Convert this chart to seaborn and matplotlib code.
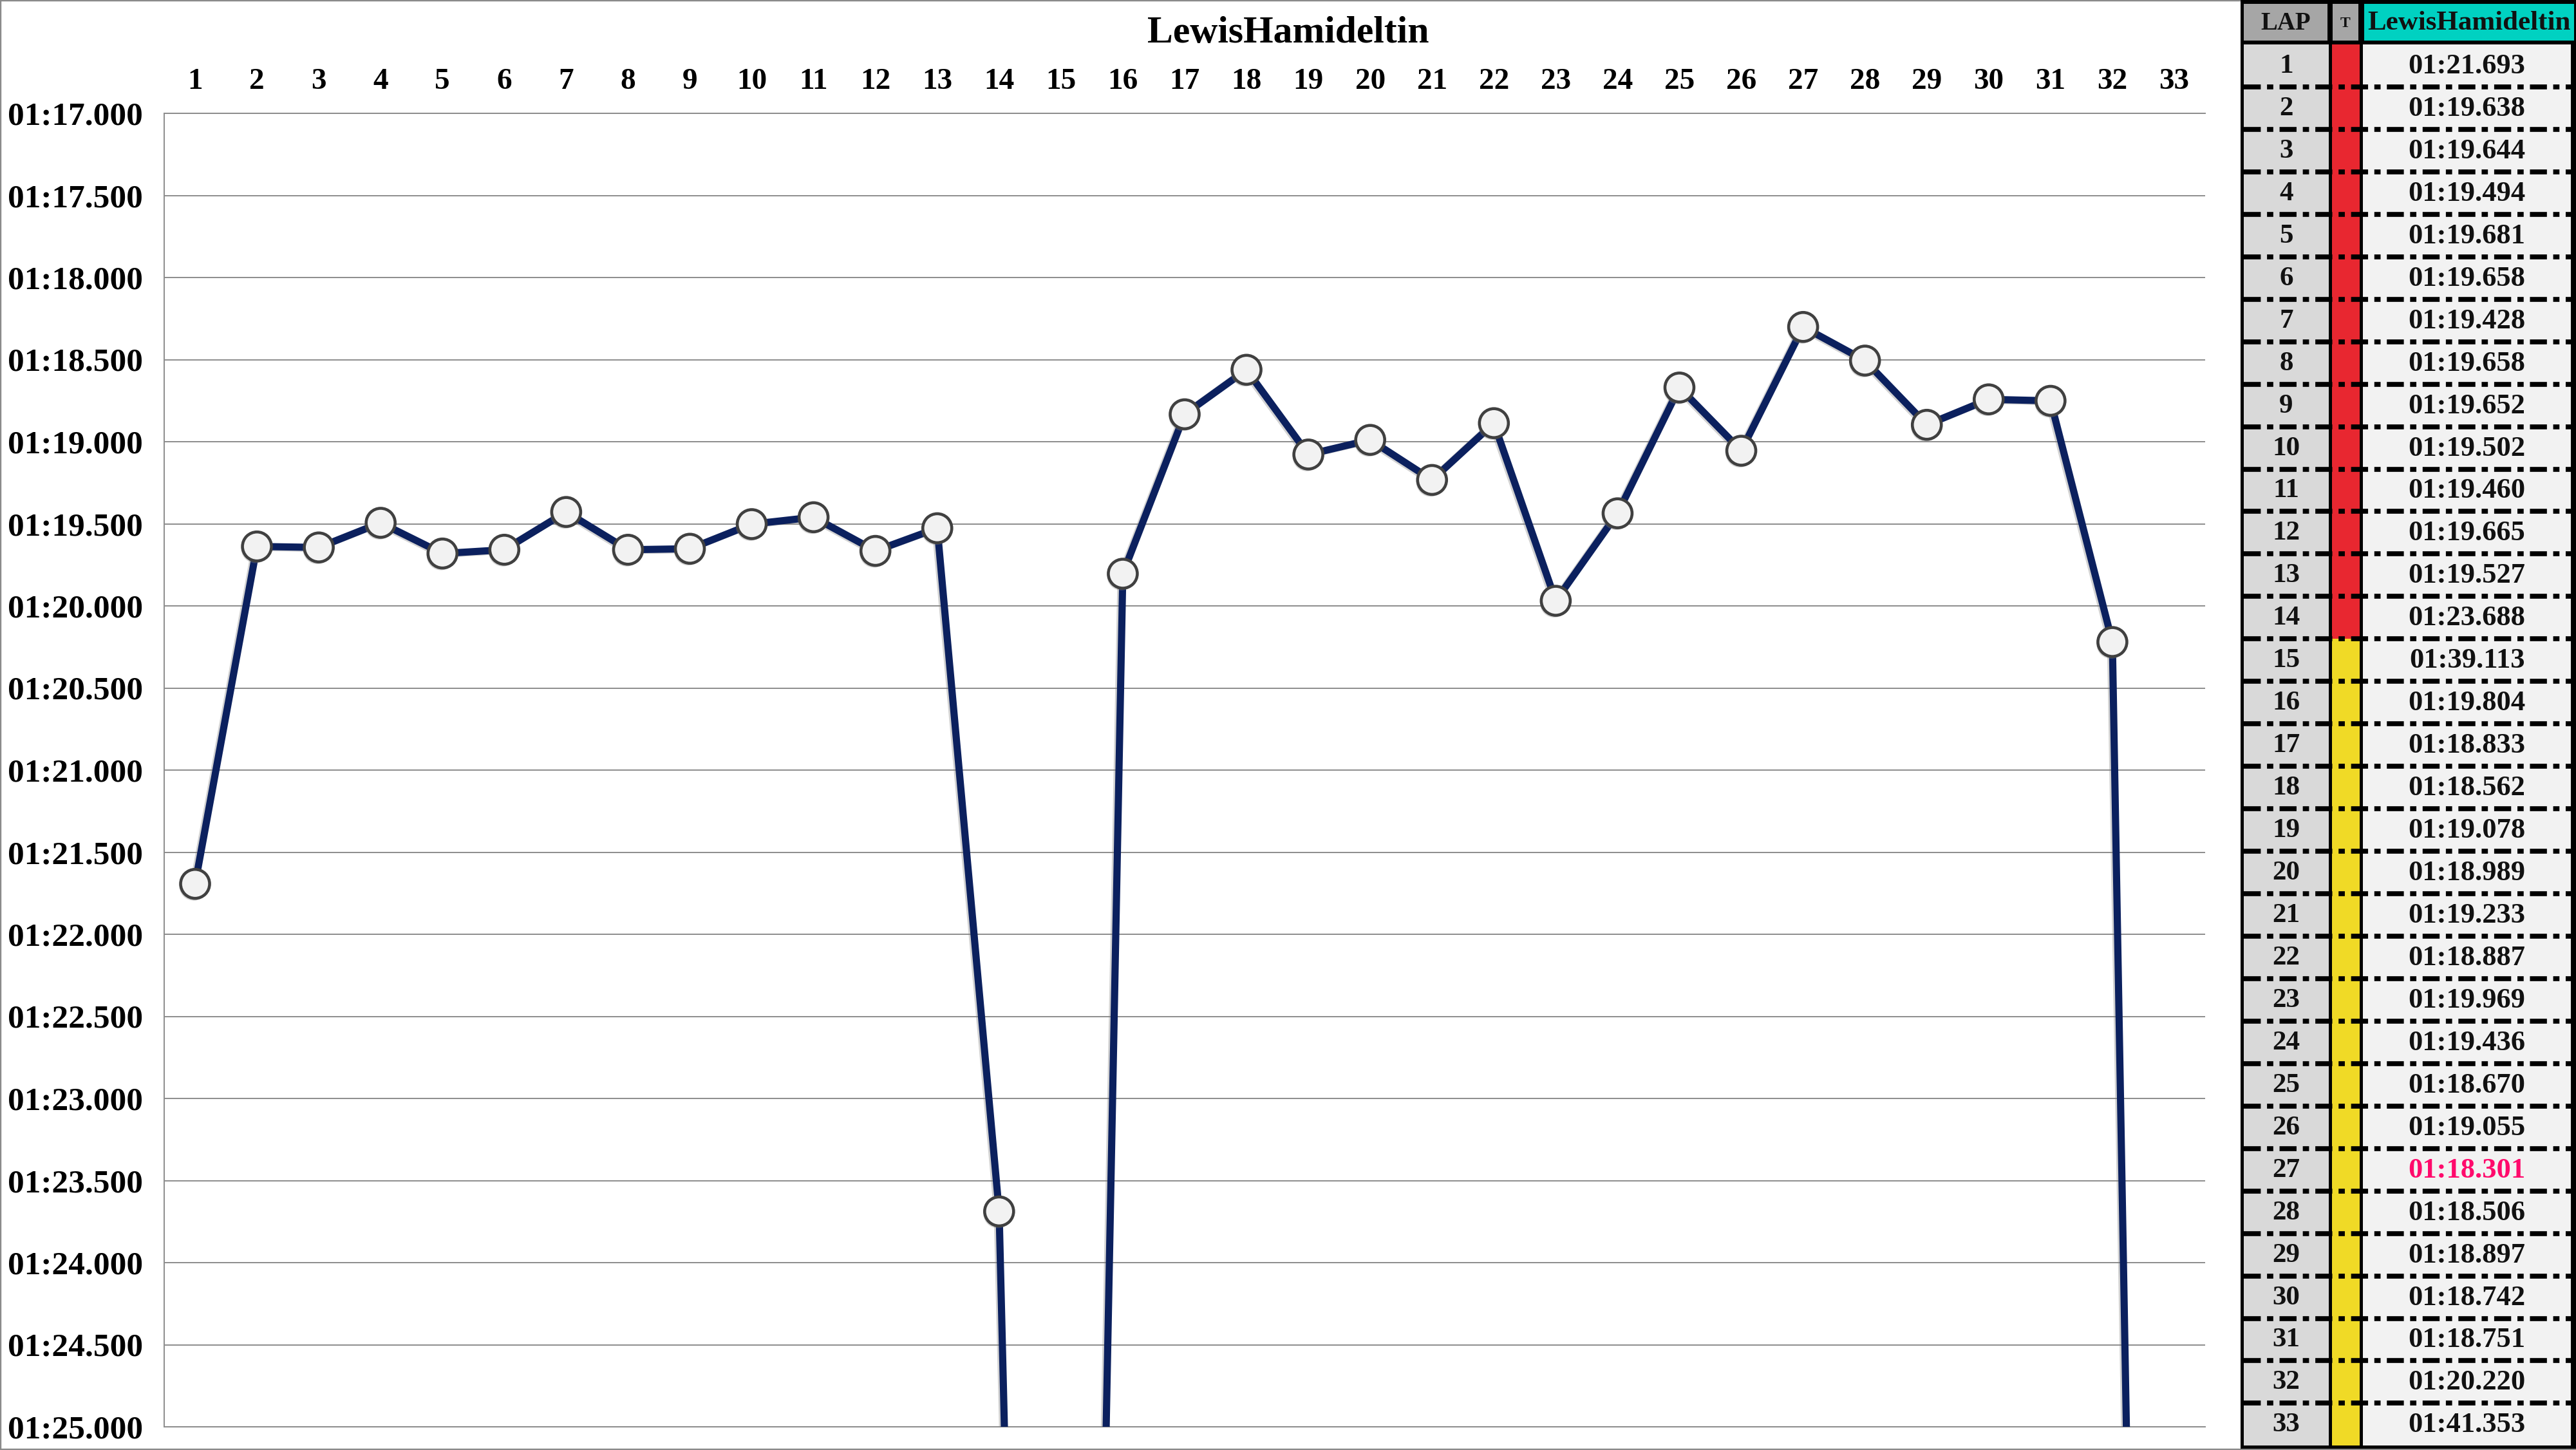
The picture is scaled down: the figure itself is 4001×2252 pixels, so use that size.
import numpy as np
import pandas as pd
import matplotlib
matplotlib.use("Agg")
import matplotlib.pyplot as plt
import matplotlib.patches as mpatches
import matplotlib.patheffects as pe
import seaborn as sns

# ---------------- data ----------------
driver = "LewisHamideltin"
laps = [1, 2, 3, 4, 5, 6, 7, 8, 9, 10, 11, 12, 13, 14, 15, 16, 17,
        18, 19, 20, 21, 22, 23, 24, 25, 26, 27, 28, 29, 30, 31, 32, 33]
lap_seconds = [81.693, 79.638, 79.644, 79.494, 79.681, 79.658, 79.428,
               79.658, 79.652, 79.502, 79.460, 79.665, 79.527, 83.688,
               99.113, 79.804, 78.833, 78.562, 79.078, 78.989, 79.233,
               78.887, 79.969, 79.436, 78.670, 79.055, 78.301, 78.506,
               78.897, 78.742, 78.751, 80.220, 101.353]
compounds = ["S", "S", "S", "S", "S", "S", "S", "S", "S", "S", "S", "S",
             "S", "S", "M", "M", "M", "M", "M", "M", "M", "M", "M", "M",
             "M", "M", "M", "M", "M", "M", "M", "M", "M"]
compound_colors = {"S": "#e82730", "M": "#f0da26"}
y_ticks = [77.0, 77.5, 78.0, 78.5, 79.0, 79.5, 80.0, 80.5, 81.0,
           81.5, 82.0, 82.5, 83.0, 83.5, 84.0, 84.5, 85.0]
table_headers = ["LAP", "T", driver]


def fmt_time(t):
    m = int(t // 60)
    s = t - 60 * m
    return f"{m:02d}:{s:06.3f}"


# ---------------- style ----------------
sns.set_theme(style="white")
plt.rcParams["font.family"] = ["Liberation Serif", "DejaVu Serif"]
plt.rcParams["font.weight"] = "bold"
plt.rcParams["lines.scale_dashes"] = False

W, H = 4001, 2252
fig = plt.figure(figsize=(W / 100, H / 100), dpi=100)
fig.patch.set_facecolor("white")

# figure frame
frame = mpatches.Rectangle((0, 0), 1, 1, transform=fig.transFigure,
                           fill=False, edgecolor="#8a8a8a", linewidth=3.2,
                           zorder=-5)
fig.patches.append(frame)

# ---------------- main chart ----------------
ax_l, ax_r, ax_t, ax_b = 255, 3425, 176, 2216
ax = fig.add_axes([ax_l / W, 1 - ax_b / H, (ax_r - ax_l) / W, (ax_b - ax_t) / H])
ax.set_facecolor("white")

df = pd.DataFrame({"lap": laps, "time": lap_seconds})

sns.lineplot(data=df, x="lap", y="time", ax=ax, color="#0b205e",
             linewidth=8.0, zorder=3,
             path_effects=[pe.SimpleLineShadow(offset=(-2.0, -1.0),
                                               shadow_color="#808080",
                                               alpha=0.35),
                           pe.Normal()])
sns.scatterplot(data=df, x="lap", y="time", ax=ax, s=1050,
                color="#f2f2f2", edgecolor="#404040", linewidth=3.3,
                zorder=4,
                path_effects=[pe.SimplePatchShadow(offset=(-1.5, -2.5),
                                                   shadow_rgbFace="#808080",
                                                   alpha=0.35),
                              pe.Normal()])

ax.set_xlim(0.5, 33.5)
ax.set_ylim(85.0, 77.0)
ax.set_yticks(y_ticks)
ax.set_yticklabels([fmt_time(v) for v in y_ticks])
ax.xaxis.tick_top()
ax.set_xticks(laps)
ax.set_xticklabels([str(l) for l in laps])
ax.tick_params(axis="y", length=0, pad=24, labelsize=37)
ax.tick_params(axis="x", length=0, pad=20, labelsize=34)
for lab in ax.get_xticklabels() + ax.get_yticklabels():
    lab.set_fontweight("bold")
    lab.set_color("black")
ax.set_xlabel("")
ax.set_ylabel("")
ax.grid(axis="y", color="#8c8c8c", linewidth=1.4)
ax.grid(axis="x", visible=False)
for side in ["top", "bottom", "left"]:
    ax.spines[side].set_visible(True)
    ax.spines[side].set_color("#8c8c8c")
    ax.spines[side].set_linewidth(1.4)
ax.spines["right"].set_visible(False)

fig.text(0.5, 1 - 52 / H, driver, ha="center", va="center",
         fontsize=43, fontweight="bold", color="black")

# ---------------- table ----------------
tx0 = 3480
tax = fig.add_axes([tx0 / W, 0, (W - tx0) / W, 1])
tax.set_xlim(tx0, W)
tax.set_ylim(H, 0)
tax.axis("off")

# black background
tax.add_patch(mpatches.Rectangle((tx0, 0), W - tx0, 2250, color="black", lw=0))

# column geometry
lap_x = (3485, 3617)
t_x = (3622, 3665)
val_x = (3670, 3993)
row_top0 = 69.0
row_h = 65.95

# header
hdr_y = (6, 63)
tax.add_patch(mpatches.Rectangle((3485, hdr_y[0]), 3615 - 3485, hdr_y[1] - hdr_y[0],
                                 color="#a6a6a6", lw=0))
tax.add_patch(mpatches.Rectangle((3623, hdr_y[0]), 3663 - 3623, hdr_y[1] - hdr_y[0],
                                 color="#a6a6a6", lw=0))
tax.add_patch(mpatches.Rectangle((3672, hdr_y[0]), 3998 - 3672, hdr_y[1] - hdr_y[0],
                                 color="#00d1c1", lw=0))
hc = (hdr_y[0] + hdr_y[1]) / 2 + 2
tax.text(3550, hc, table_headers[0], ha="center", va="center", fontsize=28,
         fontweight="bold", color="#111111")
tax.text(3643, hc, table_headers[1], ha="center", va="center", fontsize=17,
         fontweight="bold", color="#111111")
tax.text(3835, hc, table_headers[2], ha="center", va="center", fontsize=31,
         fontweight="bold", color="#111111")

# rows
n = len(laps)
body_top = row_top0
body_bot = row_top0 + n * row_h
tax.add_patch(mpatches.Rectangle((lap_x[0], body_top), lap_x[1] - lap_x[0],
                                 body_bot - body_top, color="#d9d9d9", lw=0))
tax.add_patch(mpatches.Rectangle((val_x[0], body_top), val_x[1] - val_x[0],
                                 body_bot - body_top, color="#f2f2f2", lw=0))
best = int(np.argmin(lap_seconds))
for i, (lap, t, c) in enumerate(zip(laps, lap_seconds, compounds)):
    y0 = row_top0 + i * row_h
    tax.add_patch(mpatches.Rectangle((t_x[0], y0), t_x[1] - t_x[0], row_h,
                                     color=compound_colors[c], lw=0))
    yc = y0 + row_h / 2 + 1
    tax.text((lap_x[0] + lap_x[1]) / 2, yc, str(lap), ha="center", va="center",
             fontsize=31, fontweight="bold", color="#111111")
    tax.text((val_x[0] + val_x[1]) / 2, yc, fmt_time(t), ha="center",
             va="center", fontsize=32, fontweight="bold",
             color="#ff0a6c" if i == best else "#111111")

# dash-dot separators between rows
for i in range(1, n):
    yb = row_top0 + i * row_h
    tax.plot([3485, 3998], [yb, yb], color="black", linewidth=5.5,
             dashes=(19.0, 7.0, 7.0, 7.0), solid_capstyle="butt",
             dash_capstyle="butt", zorder=5)

fig.savefig("out.png", dpi=100)
